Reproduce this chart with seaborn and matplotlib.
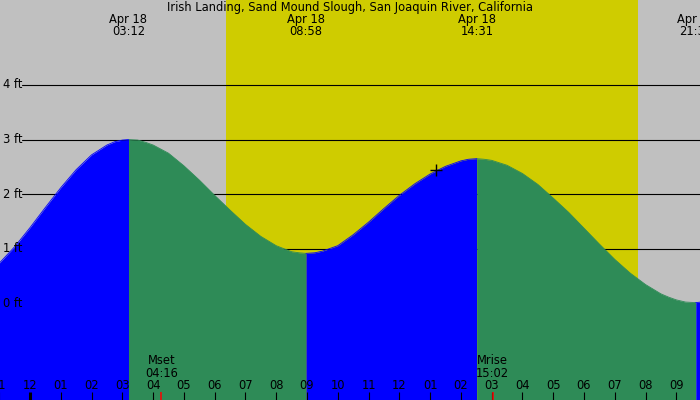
import numpy as np
import pandas as pd
import matplotlib
matplotlib.use("Agg")
import matplotlib.pyplot as plt
import matplotlib.transforms as mtransforms
import seaborn as sns

TITLE = "Irish Landing, Sand Mound Slough, San Joaquin River, California"

# hours after midnight, Apr 18, and water level (ft)
hours = [-1.0, -0.5, 0.0, 0.5, 1.0, 1.5, 2.0, 2.5, 2.75, 3.0, 3.2,
         3.5, 3.75, 4.0, 4.5, 5.0, 5.5, 6.0, 6.5, 7.0, 7.5, 8.0, 8.5, 8.75, 8.967,
         9.25, 9.5, 10.0, 10.5, 11.0, 11.5, 12.0, 12.5, 13.0, 13.5, 14.0, 14.25, 14.517,
         14.75, 15.0, 15.5, 16.0, 16.5, 17.0, 17.5, 18.0, 18.5, 19.0, 19.5, 20.0,
         20.5, 20.75, 21.0, 21.3, 21.633, 21.8, 22.0]
heights = [0.74, 1.04, 1.39, 1.76, 2.12, 2.45, 2.72, 2.90, 2.96, 2.99, 3.00,
           2.99, 2.95, 2.90, 2.75, 2.52, 2.26, 1.98, 1.71, 1.45, 1.23, 1.06, 0.95, 0.93, 0.92,
           0.93, 0.96, 1.06, 1.26, 1.49, 1.74, 1.98, 2.19, 2.37, 2.51, 2.61, 2.64, 2.65,
           2.64, 2.62, 2.53, 2.38, 2.18, 1.93, 1.67, 1.38, 1.09, 0.81, 0.56, 0.35,
           0.18, 0.12, 0.07, 0.03, 0.02, 0.03, 0.04]

# high / low water events
tide_hours = [3.2, 8.967, 14.517, 21.633]
tide_dates = ["Apr 18", "Apr 18", "Apr 18", "Apr 18"]
tide_times = ["03:12", "08:58", "14:31", "21:38"]

# moon events
moon_hours = [4.267, 15.033]
moon_labels = ["Mset\n04:16", "Mrise\n15:02"]

# daylight
sunrise, sunset = 6.38, 19.75

level_ticks = [0, 1, 2, 3, 4]
level_labels = ["0 ft", "1 ft", "2 ft", "3 ft", "4 ft"]

hour_ticks = list(range(-1, 22))
hour_labels = ["11", "12", "01", "02", "03", "04", "05", "06", "07", "08", "09", "10",
               "11", "12", "01", "02", "03", "04", "05", "06", "07", "08", "09"]

XMIN, XMAX = -0.975, 21.77
YMIN, YMAX = -1.76, 5.55

sns.set_style("white")
plt.rcParams["font.family"] = ["DejaVu Sans"]
plt.rcParams["font.size"] = 8.3
plt.rcParams["text.color"] = "black"

# split the curve into rising and falling stretches
df = pd.DataFrame({"hour": hours, "level": heights})
bounds = [hours[0]] + tide_hours + [hours[-1]]
parts = []
for i in range(len(bounds) - 1):
    seg = df[(df["hour"] >= bounds[i]) & (df["hour"] <= bounds[i + 1])].copy()
    seg["seg"] = i
    seg["rising"] = seg["level"].iloc[-1] > seg["level"].iloc[0]
    parts.append(seg)
curve = pd.concat(parts, ignore_index=True)

colors = {True: "#0000FF", False: "#2E8B57"}

fig = plt.figure(figsize=(7, 4), dpi=100)
ax = fig.add_axes([0, 0, 1, 1])
ax.set_facecolor("#C0C0C0")
ax.axvspan(sunrise, sunset, color="#CFCC00", lw=0, zorder=0)

for y in level_ticks[1:]:
    ax.axhline(y, xmin=22 / 700, xmax=1, color="black", lw=0.8, zorder=1)

for s, seg in curve.groupby("seg"):
    ax.fill_between(seg["hour"], seg["level"], YMIN - 1,
                    color=colors[bool(seg["rising"].iloc[0])], lw=0, zorder=2)
sns.lineplot(data=curve, x="hour", y="level", hue="rising", units="seg",
             estimator=None, palette=colors, legend=False, lw=0.6, ax=ax, zorder=3)

# current position marker
ax.plot([13.19], [2.44], marker="+", color="black", ms=9, mew=1, zorder=4)

ax.set_xlim(XMIN, XMAX)
ax.set_ylim(YMIN, YMAX)
ax.set_xticks([])
ax.set_yticks([])
ax.set_xlabel("")
ax.set_ylabel("")
for sp in ax.spines.values():
    sp.set_visible(False)

trans = mtransforms.blended_transform_factory(ax.transData, ax.transAxes)

ax.text(0.5, 0.98, TITLE, transform=ax.transAxes, ha="center", va="center", zorder=5)
for h, d, t in zip(tide_hours, tide_dates, tide_times):
    ax.text(h, 0.951, d, transform=trans, ha="center", va="center", zorder=5)
    ax.text(h, 0.921, t, transform=trans, ha="center", va="center", zorder=5)

for y, lab in zip(level_ticks, level_labels):
    ax.text(3 / 700, y, lab, transform=mtransforms.blended_transform_factory(ax.transAxes, ax.transData),
            ha="left", va="center", zorder=5)

tick_top = YMIN + 8 / 54.7
for h, lab in zip(hour_ticks, hour_labels):
    ax.text(h, 0.037, lab, transform=trans, ha="center", va="center", zorder=5, clip_on=False)
    ax.vlines(h, YMIN, tick_top, color="black", lw=2.2 if h == 0 else 0.8, zorder=5)

for h, lab in zip(moon_hours, moon_labels):
    ax.text(h, 0.082, lab, transform=trans, ha="center", va="center",
            linespacing=1.0, zorder=5)
    ax.vlines(h, YMIN, tick_top, color="red", lw=1.1, zorder=5)

fig.savefig("out.png", dpi=100)
